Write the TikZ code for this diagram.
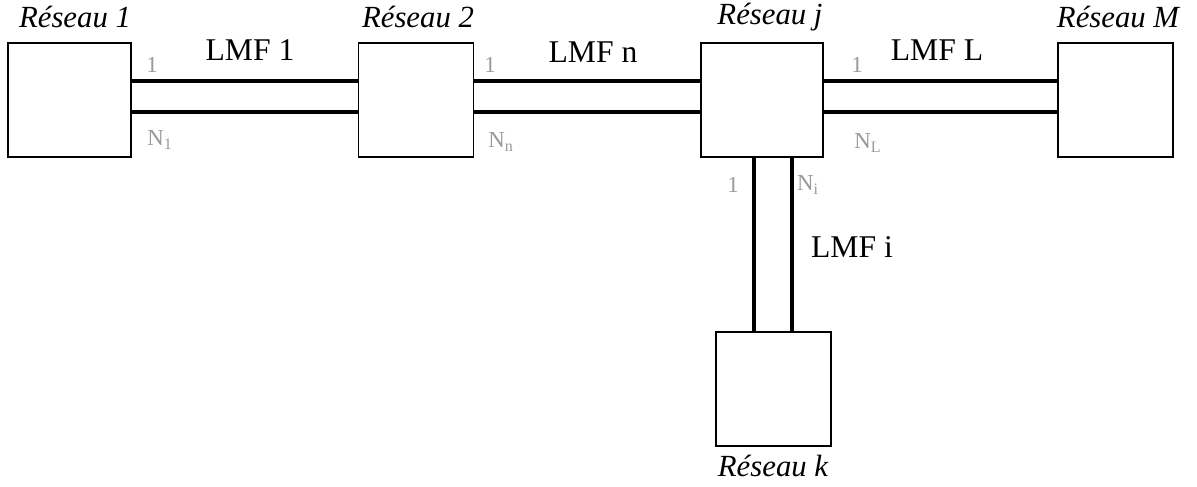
\documentclass[tikz,border=0pt]{standalone}
\usepackage{fontspec}
\setmainfont{Liberation Serif}
\begin{document}
\begin{tikzpicture}[
    font=\fontsize{18}{20}\selectfont
]
	\tikzset{
	    reseau/.style = {draw=black, line width=1.1pt, minimum width=2.3cm, minimum height=2.28cm, inner sep=0pt},
	    lmf/.style = {line width=2.6pt},
	    nom/.style = {font=\fontsize{17.5}{20}\selectfont\itshape},
	    port/.style = {text=black!40, font=\fontsize{13}{15}\selectfont, inner sep=0pt}
	}
	\useasboundingbox (0,0) rectangle (23.94,-9.72);
	\node[reseau, minimum width=2.46cm] at (1.39,-2.0) (r1) {};
	\node[reseau] at (8.32,-2.0) (r2) {};
	\node[reseau, minimum width=2.44cm] at (15.24,-2.0) (rj) {};
	\node[reseau] at (22.31,-2.0) (rm) {};
	\node[reseau] at (15.47,-7.78) (rk) {};
	\node[nom] at (1.5,-0.34) (n1) {Réseau 1};
	\node[nom] at (8.36,-0.34) (n2) {Réseau 2};
	\node[nom] at (15.4,-0.34) (nj) {Réseau j};
	\node[nom] at (22.36,-0.34) (nm) {Réseau M};
	\node[nom] at (15.46,-9.32) (nk) {Réseau k};
	% liaisons
	\draw[lmf] ([yshift=0.38cm]r1.east) -- ([yshift=0.38cm]r2.west);
	\draw[lmf] ([yshift=-0.24cm]r1.east) -- ([yshift=-0.24cm]r2.west);
	\draw[lmf] ([yshift=0.38cm]r2.east) -- ([yshift=0.38cm]rj.west);
	\draw[lmf] ([yshift=-0.24cm]r2.east) -- ([yshift=-0.24cm]rj.west);
	\draw[lmf] ([yshift=0.38cm]rj.east) -- ([yshift=0.38cm]rm.west);
	\draw[lmf] ([yshift=-0.24cm]rj.east) -- ([yshift=-0.24cm]rm.west);
	\draw[lmf] ([xshift=-0.16cm]rj.south) -- ([xshift=-0.16cm]rj.south |- rk.north);
	\draw[lmf] ([xshift=0.6cm]rj.south) -- ([xshift=0.6cm]rj.south |- rk.north);
	\node at (5.0,-1.0) (l1) {LMF 1};
	\node at (11.86,-1.04) (ln) {LMF n};
	\node at (18.74,-1.0) (ll) {LMF L};
	\node at (17.04,-4.94) (li) {LMF i};
	\node[port] at (3.04,-1.3) (p1a) {1};
	\node[port] at (3.2,-2.8) (p1b) {N\textsubscript{1}};
	\node[port] at (9.8,-1.3) (pna) {1};
	\node[port] at (10.02,-2.84) (pnb) {N\textsubscript{n}};
	\node[port] at (17.14,-1.3) (pla) {1};
	\node[port] at (17.36,-2.86) (plb) {N\textsubscript{L}};
	\node[port] at (14.66,-3.7) (pia) {1};
	\node[port] at (16.16,-3.7) (pib) {N\textsubscript{i}};
\end{tikzpicture}
\end{document}
